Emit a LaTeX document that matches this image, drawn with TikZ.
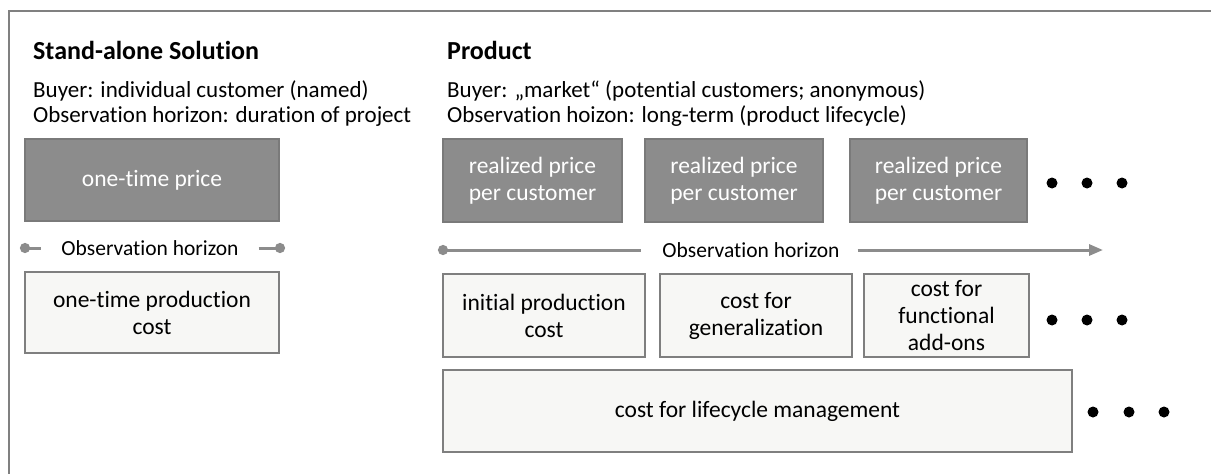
\documentclass[tikz,border=0pt]{standalone}
\usepackage{fontspec}
\setmainfont{Carlito}[Ligatures=CommonOff]
\usetikzlibrary{arrows.meta}
\definecolor{pricefill}{HTML}{8C8C8C}
\definecolor{priceline}{HTML}{7A7A7A}
\definecolor{costfill}{HTML}{F7F7F5}
\definecolor{costline}{HTML}{7F7F7F}
\definecolor{rulegray}{HTML}{808080}
\definecolor{horizongray}{HTML}{8C8C8C}
\begin{document}
\begin{tikzpicture}[x=1pt,y=-1pt,
  every node/.style={font=\fontsize{23.5}{27}\selectfont},
  title/.style={anchor=base west,inner sep=0pt,font=\fontsize{26}{30}\selectfont\bfseries},
  info/.style={anchor=base west,inner sep=0pt,align=left,font=\fontsize{23}{26}\selectfont},
  pricebox/.style={draw=priceline,fill=pricefill,line width=1.5pt,text=white,align=center,inner sep=0pt},
  costbox/.style={draw=costline,fill=costfill,line width=1.5pt,text=black,align=center,inner sep=0pt},
  hlabel/.style={inner sep=0pt,font=\fontsize{21.5}{24}\selectfont},
  hline/.style={draw=horizongray,line width=3pt},
  dotmark/.style={circle,fill=black,inner sep=0pt,minimum size=11pt},
  frame/.style={draw=rulegray,line width=1.5pt}]
\useasboundingbox (0,0) rectangle (1211,474);

% outer frame (top and left edges)
\draw[frame] (1211,11) -- (9,11) -- (9,474);

% ---- stand-alone solution ----
\node[title] (satitle) at (33,59) {Stand-alone Solution};
\node[info] (sabuyer) at (33,97) {Buyer: individual customer (named)};
\node[info] (sahor) at (33,122) {Observation horizon: duration of project};

\node[pricebox,minimum width=254pt,minimum height=82pt] (price0) at (152,180) {one-time price};
\node[hlabel] (hl0) at (150,248) {Observation horizon};
\coordinate (hl0a) at (20,248);
\coordinate (hl0b) at (285,248);
\draw[hline,{Circle[length=10pt,width=10pt]}-,shorten >=20pt] (hl0a) -- (hl0.west);
\draw[hline,-{Circle[length=10pt,width=10pt]},shorten <=20pt] (hl0.east) -- (hl0b);
\node[costbox,minimum width=254pt,minimum height=81pt] (cost0) at (152,312.5) {one-time production\\cost};

% ---- product ----
\node[title] (prtitle) at (447,59) {Product};
\node[info] (prbuyer) at (447,97) {Buyer: „market“ (potential customers; anonymous)};
\node[info] (prhor) at (447,122) {Observation hoizon: long-term (product lifecycle)};

\node[pricebox,minimum width=179pt,minimum height=83pt] (price1) at (532.5,180.5) {realized price\\per customer};
\node[pricebox,minimum width=178pt,minimum height=83pt] (price2) at (734,180.5) {realized price\\per customer};
\node[pricebox,minimum width=177pt,minimum height=83pt] (price3) at (938.5,180.5) {realized price\\per customer};
\node[dotmark] (pd1) at (1052,183) {};
\node[dotmark] (pd2) at (1087,183) {};
\node[dotmark] (pd3) at (1122,183) {};

\node[hlabel] (hl1) at (751,250) {Observation horizon};
\coordinate (hl1a) at (438,250);
\coordinate (hl1b) at (1103,250);
\draw[hline,{Circle[length=10pt,width=10pt]}-,shorten >=21pt] (hl1a) -- (hl1.west);
\draw[hline,-{Triangle[length=14pt,width=11pt]},shorten <=18pt] (hl1.east) -- (hl1b);

\node[costbox,minimum width=202pt,minimum height=83pt] (cost1) at (544,315.5) {initial production\\cost};
\node[costbox,minimum width=192pt,minimum height=83pt] (cost2) at (756,315.5) {cost for\\generalization};
\node[costbox,minimum width=165pt,minimum height=83pt] (cost3) at (946.5,315.5) {cost for\\functional\\add-ons};
\node[dotmark] (cd1) at (1052,320) {};
\node[dotmark] (cd2) at (1087,320) {};
\node[dotmark] (cd3) at (1122,320) {};

\node[costbox,minimum width=629pt,minimum height=82pt] (life) at (757.5,411) {cost for lifecycle management};
\node[dotmark] (ld1) at (1093,412) {};
\node[dotmark] (ld2) at (1129,412) {};
\node[dotmark] (ld3) at (1164,412) {};
\end{tikzpicture}
\end{document}
